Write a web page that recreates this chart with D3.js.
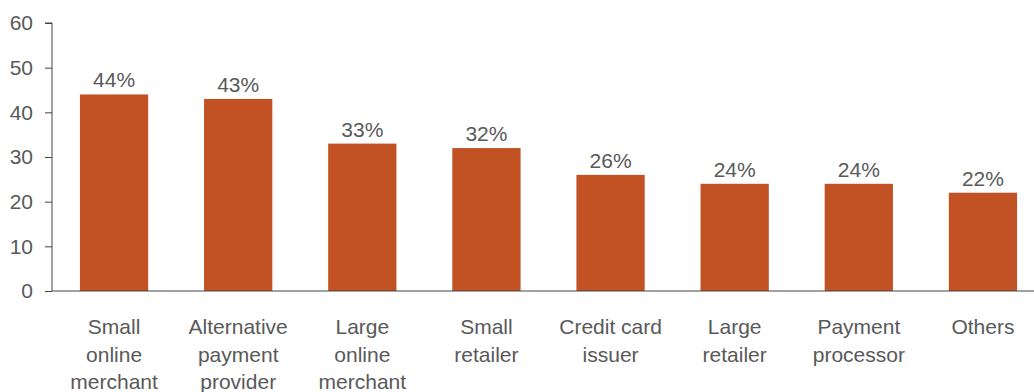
<!DOCTYPE html>
<html>
<head>
<meta charset="utf-8">
<script src="https://cdn.jsdelivr.net/npm/d3@7/dist/d3.min.js"></script>
<style>
  html, body { margin: 0; padding: 0; background: #fff; }
  svg text { font-family: "Liberation Sans", Arial, sans-serif; fill: #595959; }
</style>
</head>
<body>
<svg id="chart" width="1034" height="392"></svg>
<script>
const categories = [
  ["Small", "online", "merchant"],
  ["Alternative", "payment", "provider"],
  ["Large", "online", "merchant"],
  ["Small", "retailer"],
  ["Credit card", "issuer"],
  ["Large", "retailer"],
  ["Payment", "processor"],
  ["Others"]
];
const values = [44, 43, 33, 32, 26, 24, 24, 22];
const yTicks = [0, 10, 20, 30, 40, 50, 60];

const svg = d3.select("#chart");
const x0 = 52, yBase = 291, yTop = 23;

const x = d3.scaleBand()
  .domain(d3.range(values.length))
  .range([x0, 1045])
  .paddingInner(0.45)
  .paddingOuter(0.225);

const y = d3.scaleLinear().domain([0, 60]).range([yBase, yTop]);

// bars
svg.append("g").selectAll("rect")
  .data(values)
  .join("rect")
  .attr("x", (d, i) => x(i))
  .attr("y", d => y(d))
  .attr("width", x.bandwidth())
  .attr("height", d => y(0) - y(d))
  .attr("fill", "#c25124");

// value labels
svg.append("g").selectAll("text")
  .data(values)
  .join("text")
  .attr("x", (d, i) => x(i) + x.bandwidth() / 2)
  .attr("y", d => y(d) - 7)
  .attr("text-anchor", "middle")
  .style("font-size", "21px")
  .text(d => d + "%");

// y axis
const yAxis = d3.axisLeft(y).tickValues(yTicks).tickSize(7).tickPadding(12);
const gy = svg.append("g").attr("transform", `translate(${x0},0)`).call(yAxis);
gy.select(".domain").attr("stroke", "#444").attr("d", `M-7,${yTop}H0V${yBase}`);
gy.selectAll(".tick line").attr("stroke", "#444");
gy.selectAll(".tick text").style("font-size", "21px").attr("fill", "#595959");

// x axis baseline
svg.append("line")
  .attr("x1", x0).attr("x2", 1034)
  .attr("y1", yBase).attr("y2", yBase)
  .attr("stroke", "#444");

// category labels
const cat = svg.append("g").selectAll("text")
  .data(categories)
  .join("text")
  .attr("text-anchor", "middle")
  .attr("transform", (d, i) => `translate(${x(i) + x.bandwidth() / 2},334)`)
  .style("font-size", "21px");
cat.selectAll("tspan")
  .data(d => d)
  .join("tspan")
  .attr("x", 0)
  .attr("dy", (d, j) => j === 0 ? 0 : 27.5)
  .text(d => d);
</script>
</body>
</html>
